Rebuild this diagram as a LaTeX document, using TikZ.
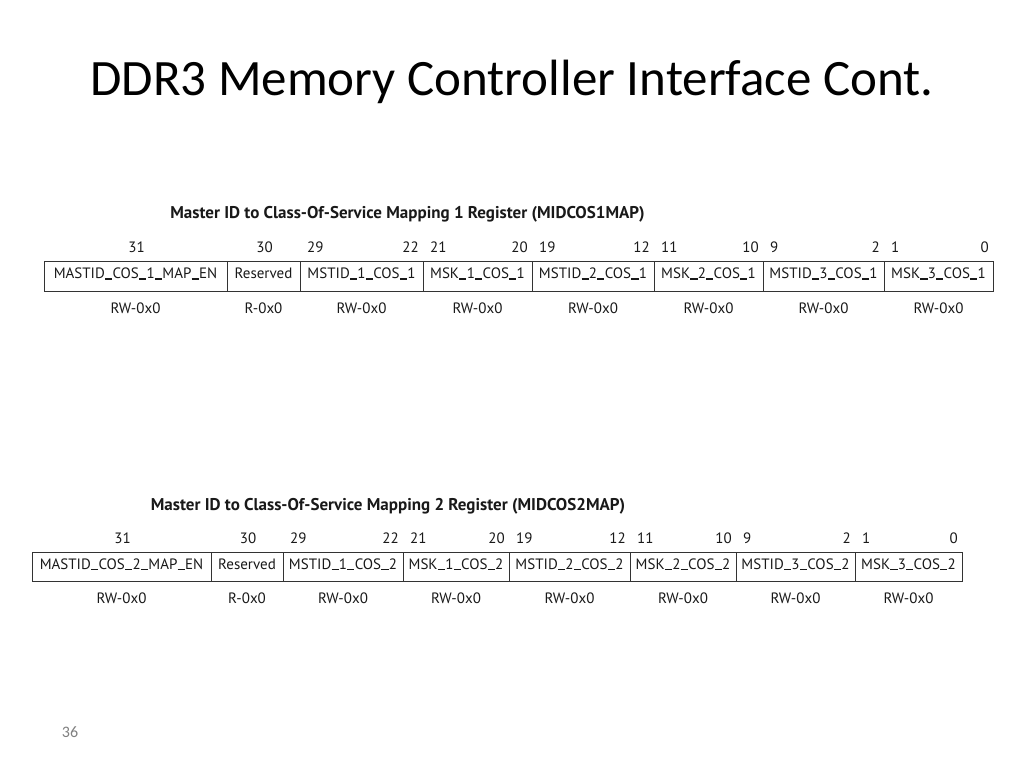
\documentclass[tikz,border=0pt]{standalone}
\usepackage{fontspec}
\setmainfont{Carlito}
\newfontfamily\regfont{PT Sans}
\newcommand\us{\kern0.02em\rule[-0.06em]{0.47em}{0.085em}\kern0.02em}
\begin{document}
\begin{tikzpicture}[x=1pt,y=-1pt,
  cell/.style={draw=black!80,line width=1pt,minimum height=30pt,inner sep=0pt,text height=0.72em,text depth=0.2em,text=black!90,font=\regfont\fontsize{15}{17}\selectfont},
  bit/.style={inner sep=0pt,text=black!90,font=\regfont\fontsize{15}{17}\selectfont},
  acc/.style={inner sep=0pt,text=black!90,font=\regfont\fontsize{15}{17}\selectfont},
  regtitle/.style={inner sep=0pt,text=black!90,font=\regfont\bfseries\fontsize{17}{19}\selectfont},
  slidetitle/.style={inner sep=0pt,text=black,font=\fontsize{51}{56}\selectfont},
  pagenum/.style={inner sep=0pt,text=black!50,font=\fontsize{16}{18}\selectfont}]
\useasboundingbox (0,0) rectangle (1024,768);
\fill[white] (0,0) rectangle (1024,768);

\node[slidetitle] (title) at (512,82) {DDR3 Memory Controller Interface Cont.};

% Register 1
\node[regtitle] (t1) at (407.5,214) {Master ID to Class-Of-Service Mapping 1 Register (MIDCOS1MAP)};
\foreach \l/\r/\n/\t/\hi/\lo/\a in {
  44/227/1/MASTID\us COS\us 1\us MAP\us EN/31//RW-0x0,
  227/300/2/Reserved/30//R-0x0,
  300/423/3/MSTID\us 1\us COS\us 1/29/22/RW-0x0,
  423/532/4/MSK\us 1\us COS\us 1/21/20/RW-0x0,
  532/654/5/MSTID\us 2\us COS\us 1/19/12/RW-0x0,
  654/763/6/MSK\us 2\us COS\us 1/11/10/RW-0x0,
  763/884/7/MSTID\us 3\us COS\us 1/9/2/RW-0x0,
  884/993/8/MSK\us 3\us COS\us 1/1/0/RW-0x0}{
  \node[cell,minimum width={\r-\l}] (A\n) at ({(\l+\r)/2},276) {\t};
  \node[acc] (Aa\n) at ({(\l+\r)/2},308) {\a};
  \ifx\lo\empty
    \node[bit] (Ah\n) at ({(\l+\r)/2+1},247) {\hi};
  \else
    \node[bit,anchor=west] (Ah\n) at ({\l+7},247) {\hi};
    \node[bit,anchor=east] (Al\n) at ({\r-4},247) {\lo};
  \fi
}

% Register 2
\node[regtitle] (t2) at (388,506) {Master ID to Class-Of-Service Mapping 2 Register (MIDCOS2MAP)};
\foreach \l/\r/\n/\t/\hi/\lo/\a in {
  32/211/1/MASTID\us COS\us 2\us MAP\us EN/31//RW-0x0,
  211/283/2/Reserved/30//R-0x0,
  283/403/3/MSTID\us 1\us COS\us 2/29/22/RW-0x0,
  403/509/4/MSK\us 1\us COS\us 2/21/20/RW-0x0,
  509/630/5/MSTID\us 2\us COS\us 2/19/12/RW-0x0,
  630/736/6/MSK\us 2\us COS\us 2/11/10/RW-0x0,
  736/855/7/MSTID\us 3\us COS\us 2/9/2/RW-0x0,
  855/962/8/MSK\us 3\us COS\us 2/1/0/RW-0x0}{
  \node[cell,minimum width={\r-\l},minimum height=29pt] (B\n) at ({(\l+\r)/2},566.5) {\t};
  \node[acc] (Ba\n) at ({(\l+\r)/2},598) {\a};
  \ifx\lo\empty
    \node[bit] (Bh\n) at ({(\l+\r)/2+1},538) {\hi};
  \else
    \node[bit,anchor=west] (Bh\n) at ({\l+7},538) {\hi};
    \node[bit,anchor=east] (Bl\n) at ({\r-4},538) {\lo};
  \fi
}

\node[pagenum] (pg) at (70,732.5) {36};
\end{tikzpicture}
\end{document}
